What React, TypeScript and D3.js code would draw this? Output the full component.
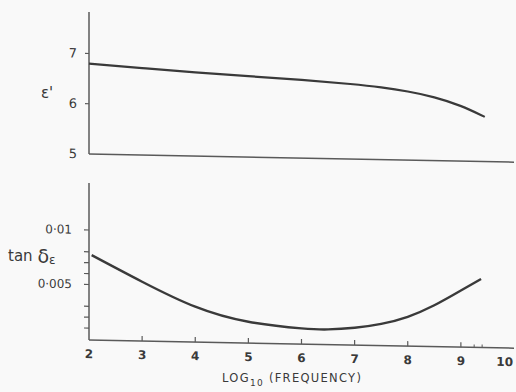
import React from "react";
import * as d3 from "d3";

// Data
const topLogF = [2, 3, 4, 5, 6, 7, 7.5, 8, 8.5, 9, 9.45];
const topEps = [6.8, 6.73, 6.66, 6.61, 6.56, 6.49, 6.44, 6.37, 6.27, 6.11, 5.89];
const botLogF = [2.05, 3, 4, 5, 6, 6.5, 7, 7.5, 8, 8.5, 9, 9.38];
const botTan = [0.0077, 0.00535, 0.00315, 0.00186, 0.00135, 0.0013, 0.0015, 0.0019, 0.0026, 0.0037, 0.0051, 0.0062];

const xTickVals = [2, 3, 4, 5, 6, 7, 8, 9, 10];
const xMinorTicks = [9.25, 9.4];
const topTickVals = [7, 6];
const topLabelVals = [7, 6, 5];
const botTickVals = [0.001, 0.002, 0.003, 0.005, 0.006, 0.007, 0.008, 0.01];
const botLabels = [
  { v: 0.01, t: "0·01" },
  { v: 0.005, t: "0·005" },
];

const W = 516;
const H = 392;
const FONT = "'DejaVu Sans', sans-serif";
const INK = "#3a3a3a";
const AXIS = "#5a5a5a";

export default function App() {
  const x = d3.scaleLinear().domain([2, 10]).range([89, 514]);
  const yTop = d3.scaleLinear().domain([5, 7]).range([154, 53.5]);
  const yBot = d3.scaleLinear().domain([0, 0.01]).range([339, 230]);

  const topLine = d3
    .line<number>()
    .x((_, i) => x(topLogF[i]))
    .y((d) => yTop(d))
    .curve(d3.curveBasis);
  const botLine = d3
    .line<number>()
    .x((_, i) => x(botLogF[i]))
    .y((d) => yBot(d))
    .curve(d3.curveNatural);

  const x0 = x(2);
  const x1 = x(10);
  const skew = `translate(${x0},0) skewY(1.1) translate(${-x0},0)`;

  return (
    <svg
      width={W}
      height={H}
      style={{ position: "absolute", left: 0, top: 0, background: "#f9f9f9" }}
    >
      <rect x={0} y={0} width={W} height={H} fill="#f9f9f9" />
      <g transform={skew}>
        {/* Top panel */}
        <line x1={x0} x2={x0} y1={12} y2={yTop(5)} stroke={AXIS} strokeWidth={1.5} />
        <line x1={x0} x2={x1} y1={yTop(5)} y2={yTop(5)} stroke={AXIS} strokeWidth={1.5} />
        {topTickVals.map((v) => (
          <line key={v} x1={x0 - 4} x2={x0} y1={yTop(v)} y2={yTop(v)} stroke={AXIS} strokeWidth={1.2} />
        ))}
        {topLabelVals.map((v) => (
          <text
            key={v}
            x={x0 - 12}
            y={yTop(v)}
            textAnchor="end"
            dominantBaseline="central"
            fontFamily={FONT}
            fontSize={13}
            fill={INK}
          >
            {v}
          </text>
        ))}
        <path d={topLine(topEps) || ""} fill="none" stroke={INK} strokeWidth={2.2} />

        {/* Bottom panel */}
        <line x1={x0} x2={x0} y1={183} y2={340} stroke={AXIS} strokeWidth={1.5} />
        <line x1={x0} x2={x1} y1={340} y2={340} stroke={AXIS} strokeWidth={1.5} />
        {botTickVals.map((v) => (
          <line key={v} x1={x0 - 5} x2={x0} y1={yBot(v)} y2={yBot(v)} stroke={AXIS} strokeWidth={1.2} />
        ))}
        {botLabels.map((l) => (
          <text
            key={l.t}
            x={x0 - 17}
            y={yBot(l.v)}
            textAnchor="end"
            dominantBaseline="central"
            fontFamily={FONT}
            fontSize={12}
            fill={INK}
          >
            {l.t}
          </text>
        ))}
        {xTickVals.slice(1, -1).map((v) => (
          <line key={v} x1={x(v)} x2={x(v)} y1={340} y2={335} stroke={AXIS} strokeWidth={1.2} />
        ))}
        {xMinorTicks.map((v) => (
          <line key={v} x1={x(v)} x2={x(v)} y1={340} y2={337} stroke={AXIS} strokeWidth={1} />
        ))}
        {xTickVals.map((v) => (
          <text
            key={v}
            x={v === 10 ? x(v) - 1 : x(v)}
            y={354}
            textAnchor={v === 10 ? "end" : "middle"}
            dominantBaseline="central"
            fontFamily={FONT}
            fontSize={12}
            fontWeight="bold"
            fill={INK}
          >
            {v}
          </text>
        ))}
        <path d={botLine(botTan) || ""} fill="none" stroke={INK} strokeWidth={2.4} />
      </g>

      {/* Axis titles */}
      <text x={47} y={93} textAnchor="middle" dominantBaseline="central" fontFamily={FONT} fontSize={15} fill={INK}>
        ε'
      </text>
      <text x={8} y={256} dominantBaseline="central" fontFamily={FONT} fontSize={15} fill={INK}>
        tan{" "}
        <tspan fontSize={19}>δ</tspan>
        <tspan fontSize={12} dy={4}>ε</tspan>
      </text>
      <text x={222} y={382} fontFamily={FONT} fontSize={11.5} fill={INK} letterSpacing={1.3}>
        LOG
        <tspan fontSize={9} dy={4}>10</tspan>
        <tspan dy={-4}> (FREQUENCY)</tspan>
      </text>
    </svg>
  );
}
